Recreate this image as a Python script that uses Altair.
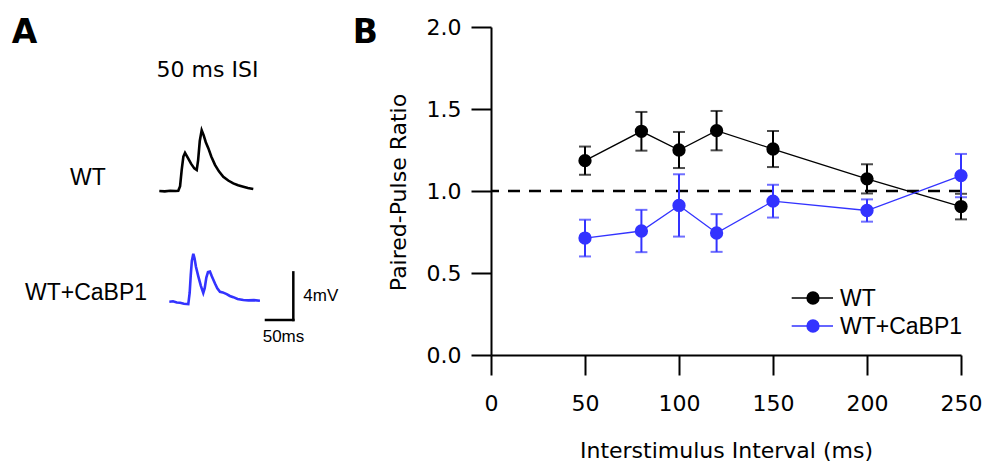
import altair as alt
import pandas as pd

# ---------------- data: panel B (paired-pulse ratio) ----------------
isi = [50, 80, 100, 120, 150, 200, 250]
wt_ppr = [1.185, 1.364, 1.250, 1.368, 1.256, 1.074, 0.905]
wt_sem = [0.086, 0.118, 0.110, 0.120, 0.110, 0.089, 0.078]
cabp_ppr = [0.713, 0.756, 0.912, 0.744, 0.938, 0.881, 1.094]
cabp_sem = [0.112, 0.129, 0.190, 0.115, 0.100, 0.068, 0.132]

series_names = ["WT", "WT+CaBP1"]
series_colors = ["#000000", "#3333ff"]

x_ticks = [0, 50, 100, 150, 200, 250]
y_ticks = [0.0, 0.5, 1.0, 1.5, 2.0]
reference_ratio = 1.0

# ---------------- data: panel A (example traces, ms / mV) ----------------
wt_trace_t = [0, 10, 20, 30, 34.7, 38, 41, 44, 47, 52, 58, 64, 68.4, 71, 74, 77.5,
              81, 85, 89.6, 95, 101.8, 109, 117, 126, 135.3, 144, 153.6, 162, 171.8]
wt_trace_v = [0, -0.03, 0.02, 0.0, 0.02, 0.4, 1.8, 2.9, 3.2, 2.8, 2.3, 1.9, 1.76, 2.6, 4.2, 5.1,
              4.7, 4.1, 3.6, 2.9, 2.2, 1.65, 1.2, 0.88, 0.64, 0.48, 0.36, 0.25, 0.17]
cabp_trace_t = [18.3, 25, 32, 38, 45, 53, 55.5, 57.5, 59.5, 62.2, 64.5, 67, 71.3, 76, 80.4,
                83, 86, 89, 92.6, 96, 101.8, 106, 110.9, 116, 123.2, 129, 135.3, 143,
                153.6, 163, 173, 184]
cabp_trace_v = [0.07, 0.1, 0.0, -0.02, -0.1, -0.13, 0.8, 2.3, 3.5, 4.1, 3.7, 3.0, 2.2, 1.4, 0.8,
                1.2, 2.1, 2.55, 2.6, 2.2, 1.6, 1.2, 0.9, 0.85, 0.7, 0.55, 0.45, 0.3,
                0.21, 0.18, 0.2, 0.15]
trace_offsets = {"WT": 0.0, "WT+CaBP1": -9.37}   # vertical stacking of the traces (mV)

scalebar_ms = 50
scalebar_mv = 4
scalebar_t_end = 245
scalebar_v_base = -10.84

# ---------------- tables ----------------
ppr_df = pd.DataFrame({
    "series": ["WT"] * len(isi) + ["WT+CaBP1"] * len(isi),
    "isi": isi + isi,
    "ppr": wt_ppr + cabp_ppr,
    "sem": wt_sem + cabp_sem,
})
ppr_df["lo"] = ppr_df["ppr"] - ppr_df["sem"]
ppr_df["hi"] = ppr_df["ppr"] + ppr_df["sem"]

trace_df = pd.concat([
    pd.DataFrame({"series": "WT", "t": wt_trace_t,
                  "v": [v + trace_offsets["WT"] for v in wt_trace_v]}),
    pd.DataFrame({"series": "WT+CaBP1", "t": cabp_trace_t,
                  "v": [v + trace_offsets["WT+CaBP1"] for v in cabp_trace_v]}),
], ignore_index=True)

scalebar_df = pd.DataFrame({
    "t1": [scalebar_t_end, scalebar_t_end - scalebar_ms],
    "v1": [scalebar_v_base, scalebar_v_base],
    "t2": [scalebar_t_end, scalebar_t_end],
    "v2": [scalebar_v_base + scalebar_mv, scalebar_v_base],
})

legend_df = pd.DataFrame({"series": series_names})

FONT = "DejaVu Sans"
LFONT = "Liberation Sans"
color_scale = alt.Scale(domain=series_names, range=series_colors)

# ---------------- panel A ----------------
xa_scale = alt.Scale(domain=[0, 250], range=[-331.7, -194.95], nice=False, zero=False)
ya_scale = alt.Scale(domain=[-12, 6], range=[306.8, 92.6], nice=False, zero=False)

traces = alt.Chart(trace_df).mark_line(strokeWidth=2.6).encode(
    x=alt.X("t:Q", scale=xa_scale, axis=None),
    y=alt.Y("v:Q", scale=ya_scale, axis=None),
    color=alt.Color("series:N", scale=color_scale, legend=None),
)

scalebar = alt.Chart(scalebar_df).mark_rule(strokeWidth=2.5, color="black", strokeCap="square").encode(
    x=alt.X("t1:Q", scale=xa_scale, axis=None),
    y=alt.Y("v1:Q", scale=ya_scale, axis=None),
    x2="t2:Q",
    y2="v2:Q",
)

sb_ms_label = alt.Chart(pd.DataFrame({"t": [scalebar_t_end - scalebar_ms / 2 + 7],
                                      "v": [scalebar_v_base],
                                      "label": [f"{scalebar_ms}ms"]})).mark_text(
    font=LFONT, fontSize=17, align="center", baseline="alphabetic", dy=21.7, color="black"
).encode(x=alt.X("t:Q", scale=xa_scale, axis=None),
         y=alt.Y("v:Q", scale=ya_scale, axis=None), text="label:N")

sb_mv_label = alt.Chart(pd.DataFrame({"t": [scalebar_t_end],
                                      "v": [scalebar_v_base + scalebar_mv / 2],
                                      "label": [f"{scalebar_mv}mV"]})).mark_text(
    font=LFONT, fontSize=17, align="left", baseline="middle", dx=10, color="black"
).encode(x=alt.X("t:Q", scale=xa_scale, axis=None),
         y=alt.Y("v:Q", scale=ya_scale, axis=None), text="label:N")

panel_a = alt.layer(traces, scalebar, sb_ms_label, sb_mv_label)

# ---------------- panel B ----------------
axis_common = dict(domainColor="black", domainWidth=2, tickColor="black", tickWidth=2,
                   tickSize=20, labelFont=FONT, labelFontSize=22, labelColor="black",
                   titleFont=FONT, titleFontSize=22, titleFontWeight="normal",
                   titleColor="black", grid=False)
x_axis = alt.Axis(values=x_ticks, title="Interstimulus Interval (ms)", labelPadding=18.5,
                  titleY=102, titleBaseline="alphabetic", labelFlush=False, **axis_common)
y_axis = alt.Axis(values=y_ticks, format=".1f", title="Paired-Pulse Ratio", labelPadding=10,
                  titleX=-86, titleY=165, titleAngle=270, titleAlign="center",
                  titleBaseline="alphabetic", **axis_common)
xb_scale = alt.Scale(domain=[0, 250], nice=False, zero=False)
yb_scale = alt.Scale(domain=[0, 2], nice=False, zero=False)

dashed = alt.Chart(pd.DataFrame({"r": [reference_ratio]})).mark_rule(
    strokeDash=[12, 9], strokeWidth=2.5, color="black"
).encode(y=alt.Y("r:Q", scale=yb_scale, axis=y_axis))

lines = alt.Chart(ppr_df).mark_line(strokeWidth=1.3).encode(
    x=alt.X("isi:Q", scale=xb_scale, axis=x_axis),
    y=alt.Y("ppr:Q", scale=yb_scale, axis=y_axis),
    color=alt.Color("series:N", scale=color_scale, legend=None),
)

errbars = alt.Chart(ppr_df).mark_errorbar(ticks=True, size=12, thickness=2).encode(
    x=alt.X("isi:Q", scale=xb_scale, axis=x_axis),
    y=alt.Y("lo:Q", scale=yb_scale, axis=y_axis),
    y2="hi:Q",
    color=alt.Color("series:N", scale=color_scale, legend=None),
)

points = alt.Chart(ppr_df).mark_circle(size=177, opacity=1).encode(
    x=alt.X("isi:Q", scale=xb_scale, axis=x_axis),
    y=alt.Y("ppr:Q", scale=yb_scale, axis=y_axis),
    color=alt.Color("series:N", scale=color_scale, legend=None),
)

panel_b = alt.layer(dashed, lines, errbars, points)

# ---------------- legend (rows placed by a point scale) ----------------
leg_y = alt.Y("series:N", scale=alt.Scale(type="point", domain=series_names,
                                          range=[271, 299], padding=0), axis=None)
leg_line = alt.Chart(legend_df).mark_rule(strokeWidth=1.3).encode(
    x=alt.value(300.7), x2=alt.value(342), y=leg_y,
    color=alt.Color("series:N", scale=color_scale, legend=None),
)
leg_dot = alt.Chart(legend_df).mark_circle(size=177, opacity=1).encode(
    x=alt.value(322), y=leg_y,
    color=alt.Color("series:N", scale=color_scale, legend=None),
)
leg_text = alt.Chart(legend_df).mark_text(
    font=LFONT, fontSize=23, align="left", baseline="middle", color="black", dy=1
).encode(x=alt.value(349), y=leg_y, text="series:N")
legend_layer = alt.layer(leg_line, leg_dot, leg_text)

# ---------------- free text ----------------
def label(txt, x, y, size, align="left", font=FONT, weight="normal"):
    return alt.Chart(pd.DataFrame({"label": [txt]})).mark_text(
        font=font, fontSize=size, fontWeight=weight, align=align,
        baseline="alphabetic", color="black"
    ).encode(x=alt.value(x), y=alt.value(y), text="label:N")

labels = [
    label("A", -479.3, 16.3, 33, weight="bold"),
    label("B", -113, 16.3, 33, align="right", weight="bold"),
    label("50 ms ISI", -283.5, 49.7, 22, align="center"),
    label("WT", -421, 158, 23, font=LFONT),
    label("WT+CaBP1", -466, 273, 23, font=LFONT),
]

chart = alt.layer(panel_a, panel_b, legend_layer, *labels).resolve_scale(
    x="independent", y="independent"
).properties(
    width=470, height=328,
    autosize=alt.AutoSizeParams(type="none"),
    padding={"left": 491, "top": 27, "right": 29, "bottom": 115},
    background="white",
).configure_view(stroke=None)

chart.save("out.html", embed_options={"renderer": "svg", "actions": False})
